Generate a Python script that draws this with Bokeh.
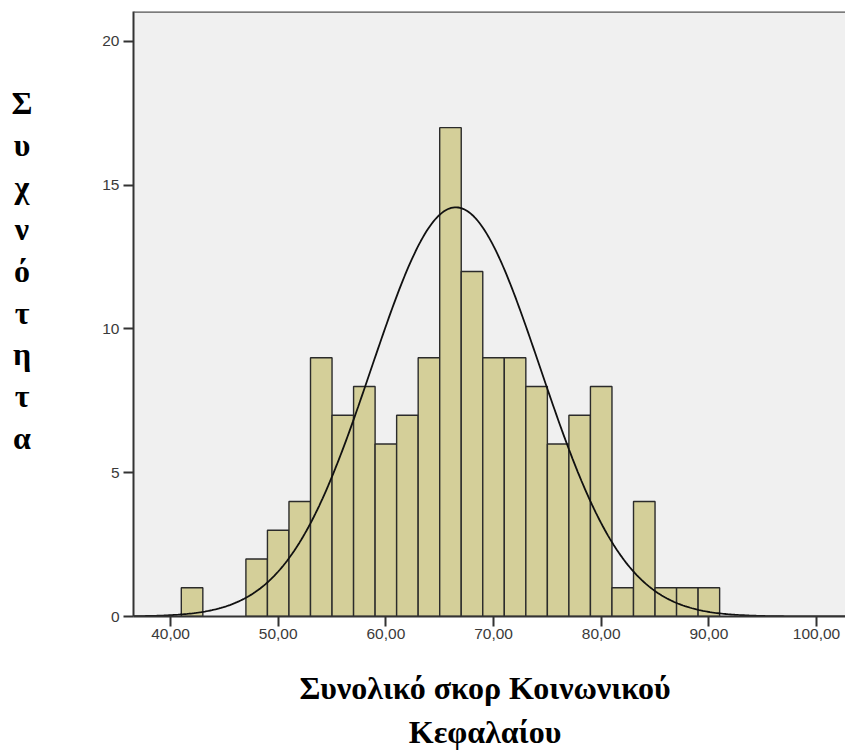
import numpy as np
from bokeh.plotting import figure
from bokeh.models import Range1d, FixedTicker, Span, Div
from bokeh.layouts import row, column
from bokeh.embed import file_html
from bokeh.resources import INLINE

# ---- data ----
bin_left = [41, 47, 49, 51, 53, 55, 57, 59, 61, 63, 65, 67, 69, 71, 73, 75, 77, 79, 81, 83, 85, 87, 89]
counts = [1, 2, 3, 4, 9, 7, 8, 6, 7, 9, 17, 12, 9, 9, 8, 6, 7, 8, 1, 4, 1, 1, 1]
bin_width = 2
fit_mean = 66.5
fit_sd = 7.85
x_ticks = [40, 50, 60, 70, 80, 90, 100]
x_tick_labels = ["40,00", "50,00", "60,00", "70,00", "80,00", "90,00", "100,00"]
y_ticks = [0, 5, 10, 15, 20]
y_title_letters = ["Σ", "υ", "χ", "ν", "ό", "τ", "η", "τ", "α"]
x_title_lines = ["Συνολικό σκορ Κοινωνικού", "Κεφαλαίου"]

W, H = 845, 751
LW = 44                 # width of the left title strip
FL, FT, FB = 133, 11, 616
PH = 650                # figure height
X0, X1 = 36.56, 102.69
Y0, Y1 = 0, 21.04

p = figure(width=W - LW, height=PH, output_backend="svg", toolbar_location=None,
           x_range=Range1d(X0, X1), y_range=Range1d(Y0, Y1),
           min_border_left=FL - LW, min_border_right=0, min_border_top=FT,
           min_border_bottom=PH - FB, margin=(0, 0, 0, 0))
p.background_fill_color = "#f0f0f0"
p.border_fill_color = "white"
p.outline_line_color = None
p.xgrid.visible = False
p.ygrid.visible = False

left = np.array(bin_left, dtype=float)
p.quad(left=left, right=left + bin_width, bottom=0, top=counts,
       fill_color="#d4cf99", line_color="#2b2b2b", line_width=1.4)

# fitted normal curve
n_total = sum(counts)
xs = np.linspace(X0, X1, 400)
ys = n_total * bin_width / (fit_sd * np.sqrt(2 * np.pi)) * np.exp(-0.5 * ((xs - fit_mean) / fit_sd) ** 2)
p.line(xs, ys, line_color="#111111", line_width=1.8)

# top border
p.add_layout(Span(location=Y1, dimension="width", line_color="#555555", line_width=2.5))

for ax in (p.xaxis[0], p.yaxis[0]):
    ax.axis_line_color = "#333333"
    ax.axis_line_width = 2
    ax.major_tick_line_color = "#333333"
    ax.major_tick_line_width = 2
    ax.minor_tick_line_color = None
    ax.major_tick_in = 0
    ax.major_label_text_font = "Liberation Sans"
    ax.major_label_text_font_size = "15.5px"
    ax.major_label_text_color = "#3a3a3a"

p.xaxis[0].ticker = FixedTicker(ticks=x_ticks)
p.xaxis[0].major_label_overrides = {t: l for t, l in zip(x_ticks, x_tick_labels)}
p.xaxis[0].major_tick_out = 10
p.xaxis[0].major_label_standoff = 2
p.yaxis[0].ticker = FixedTicker(ticks=y_ticks)
p.yaxis[0].major_tick_out = 10
p.yaxis[0].major_label_standoff = 4

font_css = "font-family:'Liberation Serif',serif;font-weight:bold;color:black;"
left_html = ("<div style=\"%s font-size:32px;line-height:41.9px;text-align:center;"
             "width:%dpx;padding-top:83px;box-sizing:border-box;\">%s</div>") % (
    font_css, LW, "<br>".join(y_title_letters))
left_div = Div(text=left_html, width=LW, height=PH, margin=(0, 0, 0, 0))

# bottom title: two lines, each placed by its baseline (699 and 743 in page pixels)
title_fs = 32
baseline_off = 0.891 * title_fs - (0.107 * title_fs) / 2   # baseline inside a line-height:1 box
lines_html = ""
for i, line in enumerate(x_title_lines):
    top = (699 + i * 44) - PH - baseline_off
    lines_html += ("<div style=\"position:absolute;left:%dpx;width:%dpx;top:%.1fpx;"
                   "text-align:center;white-space:nowrap;line-height:1;\">%s</div>") % (
        FL - 4, W - FL, top, line)
bottom_html = "<div style=\"%s font-size:%dpx;position:relative;width:%dpx;height:%dpx;\">%s</div>" % (
    font_css, title_fs, W, H - PH, lines_html)
bottom_div = Div(text=bottom_html, width=W, height=H - PH, margin=(0, 0, 0, 0))

layout = column(row(left_div, p, spacing=0, margin=(0, 0, 0, 0)), bottom_div,
                spacing=0, margin=(0, 0, 0, 0))

open("out.html", "w").write(file_html(layout, INLINE))
